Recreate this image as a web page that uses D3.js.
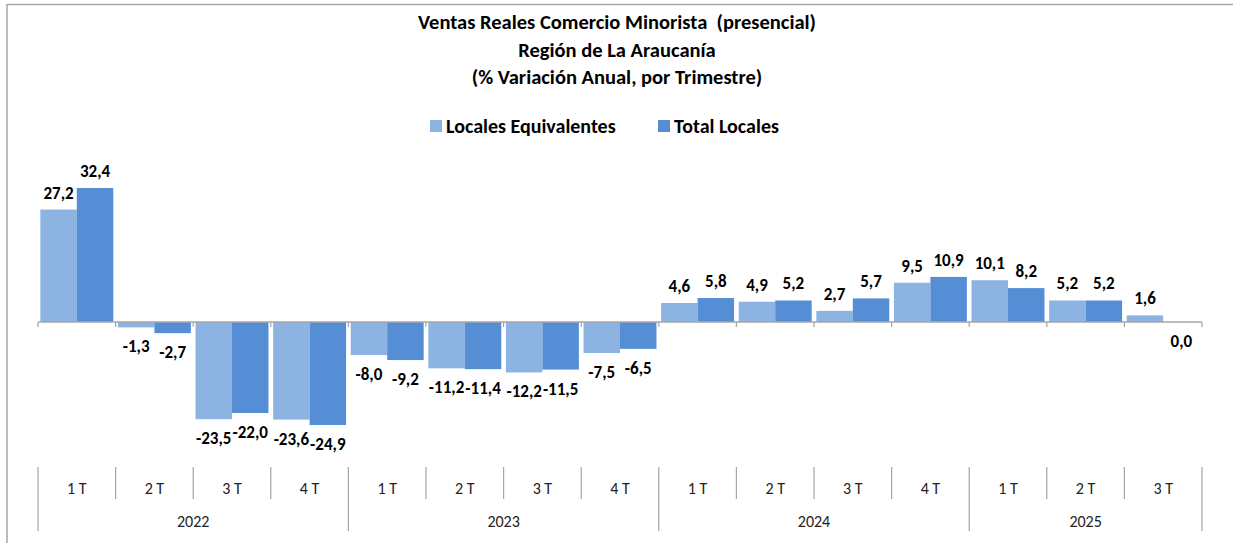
<!DOCTYPE html>
<html>
<head>
<meta charset="utf-8">
<script src="https://cdn.jsdelivr.net/npm/d3@7"></script>
<style>
  body { margin: 0; background: #fff; }
  svg { display: block; font-family: Carlito, Lato, "Open Sans", sans-serif; }
</style>
</head>
<body>
<svg id="chart" width="1233" height="543"></svg>
<script>
const quarters = ["1 T", "2 T", "3 T", "4 T", "1 T", "2 T", "3 T", "4 T", "1 T", "2 T", "3 T", "4 T", "1 T", "2 T", "3 T"];
const years = ["2022", "2023", "2024", "2025"];
const yearCounts = [4, 4, 4, 3];
const localesEquivalentes = [27.2, -1.3, -23.5, -23.6, -8.0, -11.2, -12.2, -7.5, 4.6, 4.9, 2.7, 9.5, 10.1, 5.2, 1.6];
const totalLocales = [32.4, -2.7, -22.0, -24.9, -9.2, -11.4, -11.5, -6.5, 5.8, 5.2, 5.7, 10.9, 8.2, 5.2, 0.0];
const seriesNames = ["Locales Equivalentes", "Total Locales"];
const colors = ["#8db3e2", "#558ed5"];

const svg = d3.select("#chart");
const axisColor = "#a6a6a6";

// frame (only top and left show in the picture)
svg.append("line").attr("x1", 7).attr("x2", 1233).attr("y1", 4.5).attr("y2", 4.5)
  .attr("stroke", axisColor).attr("stroke-width", 1.5);
svg.append("line").attr("x1", 7).attr("x2", 7).attr("y1", 4).attr("y2", 543)
  .attr("stroke", axisColor).attr("stroke-width", 1.5);

// title
const titleLines = ["Ventas Reales Comercio Minorista  (presencial)", "Región de La Araucanía", "(% Variación Anual, por Trimestre)"];
svg.append("g").selectAll("text")
  .data(titleLines)
  .join("text")
  .attr("x", 617)
  .attr("y", (d, i) => 29 + i * 27.5)
  .attr("text-anchor", "middle")
  .style("font-size", "20.5px")
  .style("font-weight", "bold")
  .style("white-space", "pre")
  .text(d => d);

// legend
const legend = svg.append("g");
const legendX = [430, 658];
seriesNames.forEach((name, i) => {
  legend.append("rect").attr("x", legendX[i]).attr("y", 120).attr("width", 12).attr("height", 12).attr("fill", colors[i]);
  legend.append("text").attr("x", legendX[i] + 16).attr("y", 133)
    .style("font-size", "20px").style("font-weight", "bold").text(name);
});

// scales
const idx = d3.range(quarters.length);
const x = d3.scaleBand().domain(idx).range([38, 1202]).paddingInner(0.06).paddingOuter(0.03);
const step = (1202 - 38) / quarters.length;
const xSub = d3.scaleBand().domain([0, 1]).range([0, x.bandwidth()]);
const y = d3.scaleLinear().domain([-30, 35]).range([322 + 30 * 4.136, 322 - 35 * 4.136]);

const data = idx.map(i => [localesEquivalentes[i], totalLocales[i]]);

const groups = svg.append("g").selectAll("g")
  .data(data)
  .join("g")
  .attr("transform", (d, i) => `translate(${x(i)},0)`);

groups.selectAll("rect")
  .data(d => d)
  .join("rect")
  .attr("x", (d, j) => xSub(j))
  .attr("width", xSub.bandwidth())
  .attr("y", d => y(Math.max(0, d)))
  .attr("height", d => Math.abs(y(d) - y(0)))
  .attr("fill", (d, j) => colors[j]);

const fmt = v => v.toFixed(1).replace(".", ",");
groups.selectAll("text")
  .data(d => d)
  .join("text")
  .attr("x", (d, j) => xSub(j) + xSub.bandwidth() / 2)
  .attr("y", d => d > 0 ? y(d) - 11 : y(d) + 25)
  .attr("text-anchor", "middle")
  .style("font-size", "17px")
  .style("font-weight", "bold")
  .text(fmt);

// zero axis line with ticks at category edges
const boundaries = d3.range(quarters.length + 1).map(i => 38 + i * step);
svg.append("line").attr("x1", 38).attr("x2", 1202).attr("y1", y(0)).attr("y2", y(0))
  .attr("stroke", axisColor).attr("stroke-width", 1.5);
svg.append("g").selectAll("line")
  .data(boundaries)
  .join("line")
  .attr("x1", d => d).attr("x2", d => d)
  .attr("y1", y(0)).attr("y2", y(0) + 5)
  .attr("stroke", axisColor).attr("stroke-width", 1.2);

// multi-level category axis
const yearEdges = [0];
yearCounts.forEach(c => yearEdges.push(yearEdges[yearEdges.length - 1] + c));
const catAxis = svg.append("g");
catAxis.selectAll("line")
  .data(d3.range(quarters.length + 1))
  .join("line")
  .attr("x1", i => boundaries[i]).attr("x2", i => boundaries[i])
  .attr("y1", 467)
  .attr("y2", i => yearEdges.includes(i) ? 531 : 499)
  .attr("stroke", axisColor).attr("stroke-width", 1.2);

catAxis.selectAll("text.q")
  .data(quarters)
  .join("text")
  .attr("class", "q")
  .attr("x", (d, i) => 38 + (i + 0.5) * step)
  .attr("y", 494)
  .attr("text-anchor", "middle")
  .style("font-size", "16px")
  .attr("fill", "#222")
  .text(d => d);

catAxis.selectAll("text.yr")
  .data(years)
  .join("text")
  .attr("class", "yr")
  .attr("x", (d, i) => 38 + (yearEdges[i] + yearEdges[i + 1]) / 2 * step)
  .attr("y", 527)
  .attr("text-anchor", "middle")
  .style("font-size", "16px")
  .attr("fill", "#222")
  .text(d => d);
</script>
</body>
</html>
